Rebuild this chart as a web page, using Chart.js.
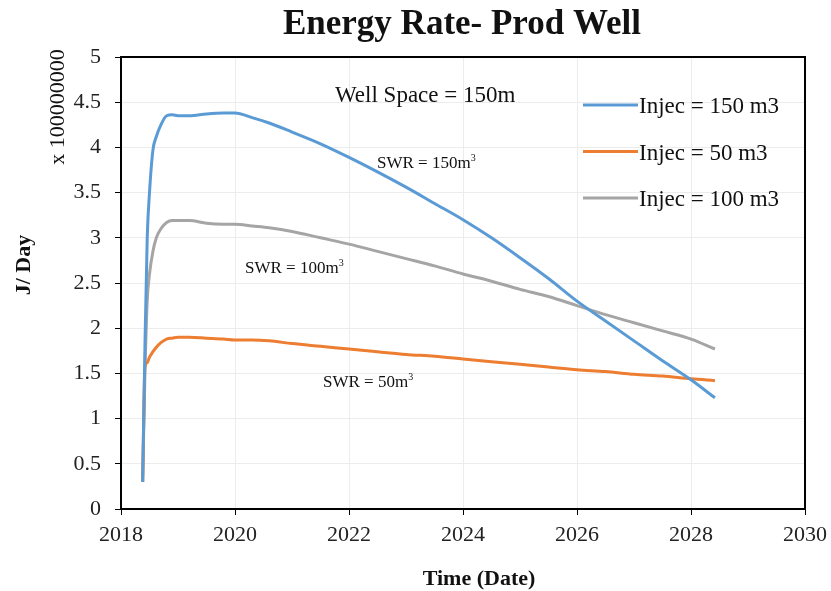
<!DOCTYPE html>
<html>
<head>
<meta charset="utf-8">
<script src="https://cdn.jsdelivr.net/npm/chart.js@4.4.1/dist/chart.umd.min.js"></script>
<style>
  html, body { margin: 0; padding: 0; background: #fff; }
  #wrap { width: 831px; height: 591px; }
</style>
</head>
<body>
<div id="wrap"><canvas id="myChart" width="831" height="591"></canvas></div>
<script>
'use strict';
// time in decimal years
let times = [2018.38, 2018.42, 2018.46, 2018.5, 2018.56, 2018.62, 2018.7, 2018.8, 2018.9, 2019.0,
  2019.2, 2019.5, 2019.8, 2020.0, 2020.3, 2020.6, 2021.0, 2021.5, 2022.0, 2022.5,
  2023.0, 2023.5, 2024.0, 2024.5, 2025.0, 2025.5, 2026.0, 2026.5, 2027.0, 2027.5,
  2028.0, 2028.42];
let injec150 = [0.3, 1.8, 3.0, 3.5, 3.97, 4.12, 4.25, 4.35, 4.36, 4.35,
  4.35, 4.37, 4.38, 4.38, 4.33, 4.27, 4.17, 4.04, 3.89, 3.73,
  3.56, 3.38, 3.2, 3.0, 2.78, 2.55, 2.3, 2.08, 1.86, 1.64,
  1.43, 1.23];
let injec50 = [0.3, 1.57, 1.62, 1.68, 1.74, 1.79, 1.84, 1.88, 1.89, 1.9,
  1.9, 1.89, 1.88, 1.87, 1.87, 1.86, 1.83, 1.8, 1.77, 1.74,
  1.71, 1.69, 1.66, 1.63, 1.6, 1.57, 1.54, 1.52, 1.49, 1.47,
  1.44, 1.42];
let injec100 = [0.3, 1.5, 2.3, 2.6, 2.85, 3.0, 3.1, 3.17, 3.19, 3.19,
  3.19, 3.16, 3.15, 3.15, 3.13, 3.11, 3.07, 3.0, 2.93, 2.85,
  2.77, 2.69, 2.6, 2.52, 2.43, 2.35, 2.25, 2.15, 2.06, 1.97,
  1.88, 1.77];
let seriesNames = ['Injec = 150 m3', 'Injec = 50 m3', 'Injec = 100 m3'];
let seriesColors = ['#5B9BD5', '#ED7D31', '#A5A5A5'];

function toPoints(vals){
  let pts = [];
  for (let i = 0; i < times.length; i++) {
    pts.push({x: times[i], y: vals[i]});
  }
  return pts;
}

const serif = '"Liberation Serif", "Times New Roman", serif';

// draws title, axis titles, box, notes and legend
const extras = {
  id: 'extras',
  afterDraw(chart){
    const ctx = chart.ctx;
    const a = chart.chartArea;
    ctx.save();
    // box top/right
    ctx.strokeStyle = '#000';
    ctx.lineWidth = 2;
    ctx.beginPath();
    ctx.moveTo(a.left, a.top);
    ctx.lineTo(a.right, a.top);
    ctx.lineTo(a.right, a.bottom);
    ctx.stroke();

    ctx.fillStyle = '#111';
    ctx.textAlign = 'center';
    ctx.textBaseline = 'alphabetic';
    ctx.font = 'bold 35px ' + serif;
    ctx.fillText('Energy Rate- Prod Well', 462, 34);

    ctx.font = 'bold 22px ' + serif;
    ctx.fillText('Time (Date)', 479, 585);

    ctx.save();
    ctx.translate(30, 265);
    ctx.rotate(-Math.PI / 2);
    ctx.fillText('J/ Day', 0, 0);
    ctx.restore();

    ctx.save();
    ctx.translate(64, 107);
    ctx.rotate(-Math.PI / 2);
    ctx.font = '22px ' + serif;
    ctx.fillText('x 100000000', 0, 0);
    ctx.restore();

    // notes
    ctx.textAlign = 'left';
    ctx.font = '23px ' + serif;
    ctx.fillText('Well Space = 150m', 335, 102);
    let notes = [['SWR = 150m', 377, 168], ['SWR = 100m', 245, 273], ['SWR = 50m', 323, 387]];
    for (let i = 0; i < notes.length; i++) {
      ctx.font = '17px ' + serif;
      ctx.fillText(notes[i][0], notes[i][1], notes[i][2]);
      let w = ctx.measureText(notes[i][0]).width;
      ctx.font = '10px ' + serif;
      ctx.fillText('3', notes[i][1] + w, notes[i][2] - 7);
    }

    // legend
    ctx.font = '23px ' + serif;
    for (let i = 0; i < seriesNames.length; i++) {
      let y = 105 + i * 46.5;
      ctx.strokeStyle = seriesColors[i];
      ctx.lineWidth = 3;
      ctx.beginPath();
      ctx.moveTo(583, y);
      ctx.lineTo(638, y);
      ctx.stroke();
      ctx.fillStyle = '#111';
      ctx.fillText(seriesNames[i], 639, y + 8);
    }
    ctx.restore();
  }
};

let datasets = [injec150, injec50, injec100].map(function(vals, i){
  return {
    label: seriesNames[i],
    data: toPoints(vals),
    borderColor: seriesColors[i],
    backgroundColor: seriesColors[i],
    borderWidth: 3,
    pointRadius: 0,
    cubicInterpolationMode: 'monotone'
  };
});

const config = {
  type: 'line',
  data: { datasets: datasets },
  options: {
    responsive: false,
    animation: false,
    layout: { padding: { left: 0, right: 26, top: 57, bottom: 0 } },
    plugins: { legend: { display: false }, tooltip: { enabled: false } },
    scales: {
      x: {
        type: 'linear',
        min: 2018,
        max: 2030,
        ticks: { stepSize: 2, color: '#222', padding: 7, font: { family: serif, size: 22 },
          callback: function(v){ return String(v); } },
        grid: { color: '#ececec', tickColor: '#000', tickLength: 6, lineWidth: 1 },
        border: { color: '#000', width: 2 },
        afterFit: function(s){ s.height = 82; s.paddingLeft = 0; s.paddingRight = 0; }
      },
      y: {
        min: 0,
        max: 5,
        ticks: { stepSize: 0.5, color: '#222', padding: 14, font: { family: serif, size: 22 },
          callback: function(v){ return String(v); } },
        grid: { color: '#ececec', tickColor: '#000', tickLength: 6, lineWidth: 1 },
        border: { color: '#000', width: 2 },
        afterFit: function(s){ s.width = 121; s.paddingTop = 0; s.paddingBottom = 0; }
      }
    }
  },
  plugins: [extras]
};

let myChart = new Chart(document.getElementById('myChart'), config);
</script>
</body>
</html>
